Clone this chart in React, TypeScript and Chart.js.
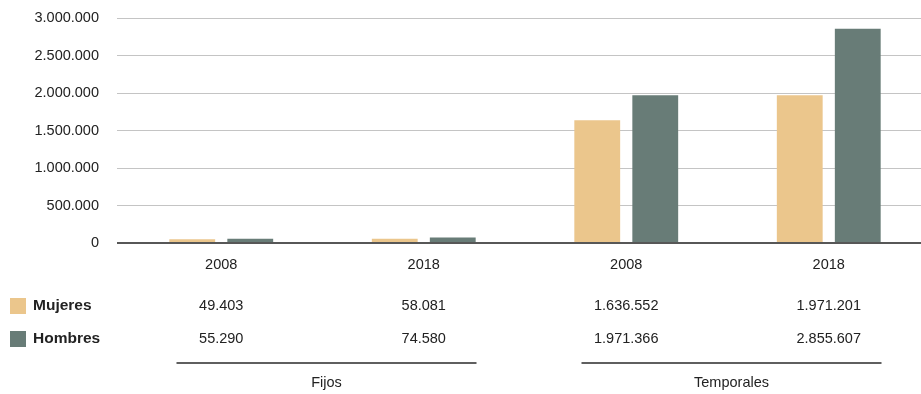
import React, { useEffect, useRef } from "react";
import { Chart, registerables } from "chart.js";

Chart.register(...registerables);

const categories = ["2008", "2018", "2008", "2018"];
const groupLabels = ["Fijos", "Temporales"];
const mujeres = [49403, 58081, 1636552, 1971201];
const hombres = [55290, 74580, 1971366, 2855607];
const seriesNames = ["Mujeres", "Hombres"];
const yMax = 3000000;
const yStep = 500000;

const COLOR_MUJERES = "#EBC68C";
const COLOR_HOMBRES = "#687C77";
const TEXT = "#222222";
const FONT_FAMILY = "'Liberation Sans', Arial, sans-serif";
const FONT_SIZE = 14.5;
const BOLD_SIZE = 15.5;

const fmt = (n: number) => Math.round(n).toString().replace(/\B(?=(\d{3})+(?!\d))/g, ".");

// Draws the zero baseline above the bars and the data table underneath the axis.
const tablePlugin = {
  id: "dataTable",
  afterDatasetsDraw(chart: any) {
    const { ctx, chartArea, scales } = chart;
    const y0 = scales.y.getPixelForValue(0);
    ctx.save();
    ctx.strokeStyle = "#575757";
    ctx.lineWidth = 2;
    ctx.beginPath();
    ctx.moveTo(chartArea.left - 3, y0);
    ctx.lineTo(chart.width, y0);
    ctx.stroke();
    ctx.restore();
  },
  afterDraw(chart: any) {
    const { ctx, scales } = chart;
    const x = scales.x;
    const rows = [
      { name: seriesNames[0], color: COLOR_MUJERES, values: mujeres, y: 306 },
      { name: seriesNames[1], color: COLOR_HOMBRES, values: hombres, y: 339 },
    ];
    ctx.save();
    ctx.textBaseline = "middle";
    rows.forEach((row) => {
      ctx.fillStyle = row.color;
      ctx.fillRect(10, row.y - 8, 16, 16);
      ctx.fillStyle = TEXT;
      ctx.textAlign = "left";
      ctx.font = `bold ${BOLD_SIZE}px ${FONT_FAMILY}`;
      ctx.fillText(row.name, 33, row.y);
      ctx.font = `${FONT_SIZE}px ${FONT_FAMILY}`;
      ctx.textAlign = "center";
      row.values.forEach((v, i) => {
        ctx.fillText(fmt(v), x.getPixelForValue(i), row.y);
      });
    });
    groupLabels.forEach((label, g) => {
      const cx = (x.getPixelForValue(g * 2) + x.getPixelForValue(g * 2 + 1)) / 2 + 4;
      ctx.strokeStyle = "#5f5f5f";
      ctx.lineWidth = 2;
      ctx.beginPath();
      ctx.moveTo(cx - 150, 363);
      ctx.lineTo(cx + 150, 363);
      ctx.stroke();
      ctx.fillStyle = TEXT;
      ctx.textAlign = "center";
      ctx.font = `${FONT_SIZE}px ${FONT_FAMILY}`;
      ctx.fillText(label, cx, 383);
    });
    ctx.restore();
  },
};

export default function App() {
  const canvasRef = useRef<HTMLCanvasElement>(null);

  useEffect(() => {
    document.body.style.margin = "0";
    const canvas = canvasRef.current;
    if (!canvas) return;
    const chart = new Chart(canvas, {
      type: "bar",
      data: {
        labels: categories,
        datasets: [
          {
            label: seriesNames[0],
            data: mujeres,
            backgroundColor: COLOR_MUJERES,
            borderWidth: 0,
            categoryPercentage: 0.573,
            barPercentage: 0.79,
          },
          {
            label: seriesNames[1],
            data: hombres,
            backgroundColor: COLOR_HOMBRES,
            borderWidth: 0,
            categoryPercentage: 0.573,
            barPercentage: 0.79,
          },
        ],
      },
      options: {
        responsive: false,
        animation: false,
        devicePixelRatio: 1,
        layout: { padding: { top: 18, left: 0, right: 0, bottom: 0 } },
        plugins: {
          legend: { display: false },
          tooltip: { enabled: false },
        },
        scales: {
          x: {
            grid: { display: false, drawTicks: false },
            border: { display: false },
            ticks: {
              color: TEXT,
              font: { family: FONT_FAMILY, size: FONT_SIZE },
              padding: 13.3,
            },
            afterFit: (s: any) => {
              s.height = 151;
              s.paddingLeft = 0;
              s.paddingRight = 0;
            },
          },
          y: {
            min: 0,
            max: yMax,
            ticks: {
              stepSize: yStep,
              color: TEXT,
              font: { family: FONT_FAMILY, size: FONT_SIZE },
              padding: 18,
              callback: (v: any) => fmt(Number(v)),
            },
            grid: { color: "#c4c4c4", lineWidth: 1, tickLength: 3, drawTicks: true },
            border: { display: false },
            afterFit: (s: any) => {
              s.width = 120;
              s.paddingTop = 0;
              s.paddingBottom = 0;
            },
          },
        },
      },
      plugins: [tablePlugin],
    });
    return () => chart.destroy();
  }, []);

  return (
    <div
      style={{
        position: "absolute",
        left: 0,
        top: 0,
        width: 921,
        height: 394,
        overflow: "hidden",
        background: "#ffffff",
      }}
    >
      <canvas ref={canvasRef} width={930} height={394} style={{ display: "block" }} />
    </div>
  );
}
